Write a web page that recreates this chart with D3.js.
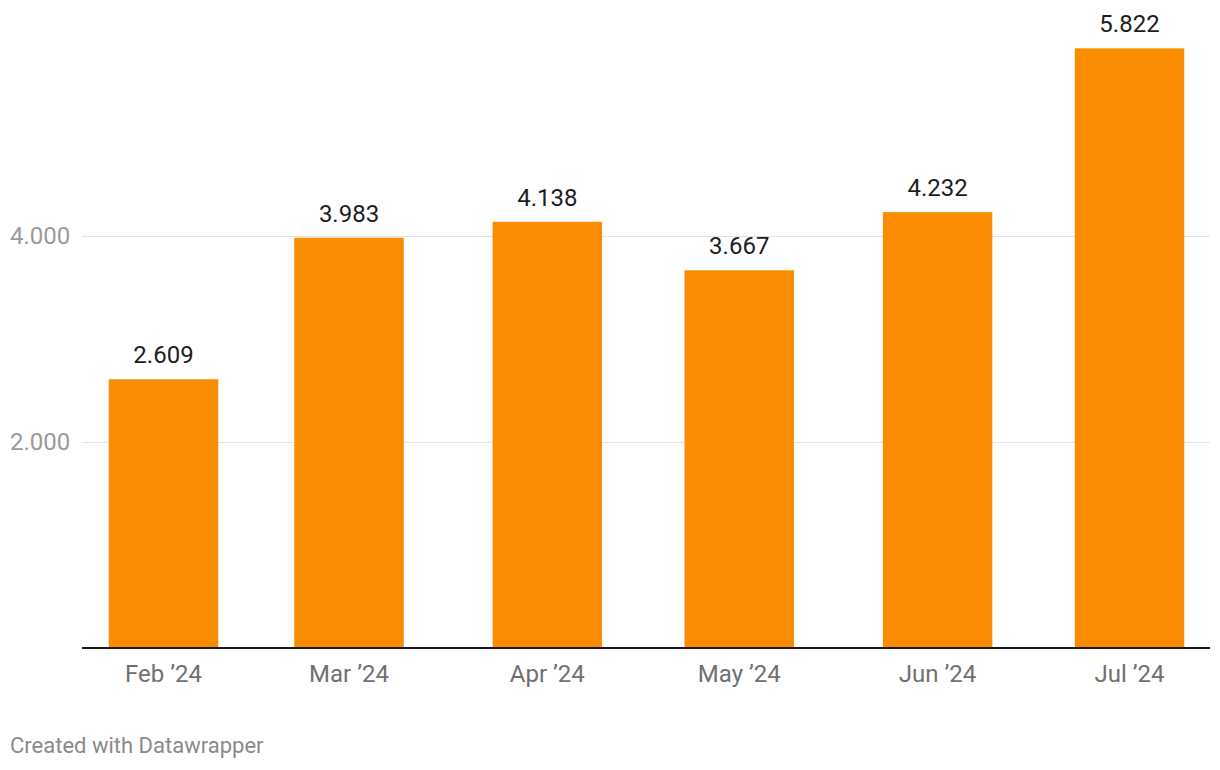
<!DOCTYPE html>
<html>
<head>
<meta charset="utf-8">
<script src="https://cdn.jsdelivr.net/npm/d3@7"></script>
<style>
  html, body { margin: 0; padding: 0; background: #fff; }
  svg { display: block; font-family: Roboto, "Noto Sans", sans-serif; }
</style>
</head>
<body>
<svg id="chart" width="1220" height="770"></svg>
<script>
const months = ["2024-02-01", "2024-03-01", "2024-04-01", "2024-05-01", "2024-06-01", "2024-07-01"];
const monthLabels = ["Feb \u201924", "Mar \u201924", "Apr \u201924", "May \u201924", "Jun \u201924", "Jul \u201924"];
const values = [2609, 3983, 4138, 3667, 4232, 5822];
const yTicks = [2000, 4000];

const fmt = v => d3.format(",")(v).replace(/,/g, ".");
const parse = d3.utcParse("%Y-%m-%d");
const dates = months.map(parse);

const svg = d3.select("#chart");
const plotLeft = 82, plotRight = 1210;
const baseY = 648;
const barW = 109.5;

const x = d3.scaleUtc()
  .domain([dates[0], dates[dates.length - 1]])
  .range([163.5, 1129.5]);

const y = d3.scaleLinear()
  .domain([0, 4000])
  .range([baseY, 236]);

// gridlines
const grid = svg.append("g");
grid.selectAll("line").data(yTicks).join("line")
  .attr("x1", plotLeft).attr("x2", plotRight)
  .attr("y1", d => Math.round(y(d)) + 0.5).attr("y2", d => Math.round(y(d)) + 0.5)
  .attr("stroke", "#e3e3e3").attr("stroke-width", 1);

grid.selectAll("text").data(yTicks).join("text")
  .attr("x", 10).attr("y", d => y(d))
  .attr("dy", "0.35em")
  .attr("fill", "#9a9a9a")
  .attr("font-size", 24)
  .text(fmt);

// bars
svg.append("g").selectAll("rect").data(values).join("rect")
  .attr("x", (d, i) => x(dates[i]) - barW / 2)
  .attr("width", barW)
  .attr("y", d => y(d))
  .attr("height", d => baseY - y(d))
  .attr("fill", "#f98c00");

// value labels
svg.append("g").selectAll("text").data(values).join("text")
  .attr("x", (d, i) => x(dates[i]))
  .attr("y", d => y(d) - 16)
  .attr("text-anchor", "middle")
  .attr("fill", "#1d1d1d")
  .attr("font-size", 24)
  .text(fmt);

// axis line
svg.append("line")
  .attr("x1", plotLeft).attr("x2", plotRight)
  .attr("y1", baseY).attr("y2", baseY)
  .attr("stroke", "#1a1a1a").attr("stroke-width", 2);

// x labels
svg.append("g").selectAll("text").data(monthLabels).join("text")
  .attr("x", (d, i) => x(dates[i]))
  .attr("y", 682)
  .attr("text-anchor", "middle")
  .attr("fill", "#707070")
  .attr("font-size", 24)
  .text(d => d);

// credit
svg.append("text")
  .attr("x", 10).attr("y", 753)
  .attr("fill", "#8a8a8a")
  .attr("font-size", 22)
  .text("Created with Datawrapper");
</script>
</body>
</html>
